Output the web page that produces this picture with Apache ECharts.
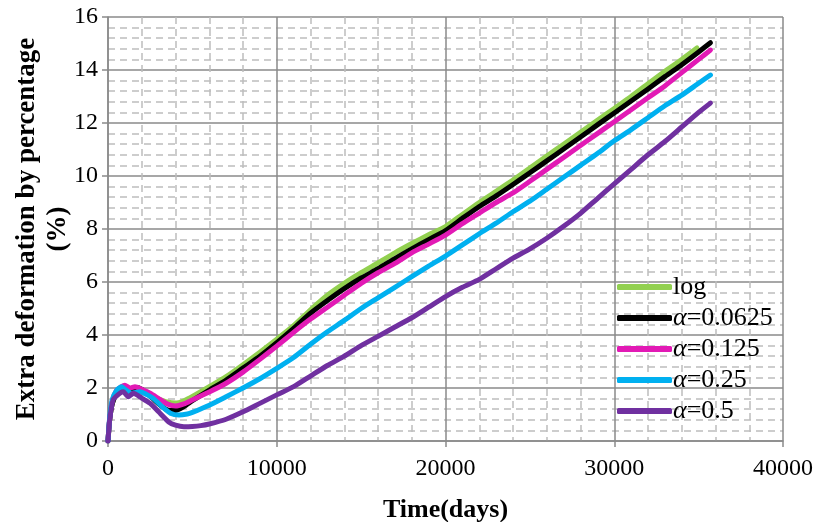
<!DOCTYPE html>
<html>
<head>
<meta charset="utf-8">
<script src="https://cdn.jsdelivr.net/npm/echarts@6/dist/echarts.min.js"></script>
<style>
html,body{margin:0;padding:0;background:#fff;}
#chart{width:818px;height:522px;}
</style>
</head>
<body>
<div id="chart"></div>
<script>
// ---- Data ----
const seriesNames = ['log', 'α=0.0625', 'α=0.125', 'α=0.25', 'α=0.5'];
const seriesColors = ['#92D050', '#000000', '#E21AB5', '#00B0F0', '#7030A0'];

const tLog = [0,100,250,500,800,1100,1500,2000,2500,3000,3500,4000,4500,5000,6000,7000,8000,9000,10000,11000,12000,13000,14000,15000,16000,17000,18000,19000,20000,21000,22000,23000,24000,25000,26000,27000,28000,29000,30000,31000,32000,33000,34000,34900];
const vLog = [0,0.8,1.4,1.8,1.98,2.02,1.95,1.85,1.72,1.58,1.47,1.43,1.52,1.68,2.05,2.43,2.88,3.35,3.84,4.35,4.95,5.5,5.95,6.35,6.72,7.1,7.45,7.78,8.09,8.55,9.0,9.42,9.85,10.3,10.75,11.2,11.65,12.1,12.55,13.0,13.48,13.95,14.4,14.83];

const tA0625 = [0,100,250,500,800,1000,1300,1700,2000,2500,3000,3500,4000,4500,5000,6000,7000,8000,9000,10000,11000,12000,13000,14000,15000,16000,17000,18000,19000,20000,21000,22000,23000,24000,25000,26000,27000,28000,29000,30000,31000,32000,33000,34000,35000,35700];
const vA0625 = [0,0.8,1.4,1.78,1.92,1.95,1.9,2.02,1.95,1.7,1.4,1.18,1.15,1.3,1.52,1.92,2.3,2.75,3.2,3.71,4.25,4.82,5.3,5.75,6.15,6.5,6.88,7.25,7.6,7.94,8.4,8.85,9.25,9.68,10.12,10.57,11.02,11.47,11.93,12.38,12.83,13.28,13.75,14.2,14.68,15.03];

const tA125 = [0,100,250,500,800,1000,1300,1600,2000,2500,3000,3500,4000,4500,5000,6000,7000,8000,9000,10000,11000,12000,13000,14000,15000,16000,17000,18000,19000,20000,21000,22000,23000,24000,25000,26000,27000,28000,29000,30000,31000,32000,33000,34000,35000,35700];
const vA125 = [0,0.85,1.5,1.9,2.05,2.1,2.0,2.05,1.95,1.8,1.6,1.4,1.32,1.4,1.55,1.85,2.18,2.6,3.08,3.58,4.1,4.6,5.05,5.5,5.95,6.35,6.7,7.1,7.43,7.77,8.2,8.6,9.0,9.36,9.8,10.25,10.7,11.15,11.6,12.05,12.5,12.95,13.4,13.9,14.4,14.75];

const tA25 = [0,100,250,500,800,1000,1400,1900,2300,2700,3200,3700,4200,4700,5000,6000,7000,8000,9000,10000,11000,12000,13000,14000,15000,16000,17000,18000,19000,20000,21000,22000,23000,24000,25000,26000,27000,28000,29000,30000,31000,32000,33000,34000,35000,35700];
const vA25 = [0,0.9,1.55,1.9,2.05,1.95,1.8,1.86,1.75,1.6,1.3,1.05,0.98,1.02,1.08,1.35,1.67,2.0,2.35,2.74,3.15,3.65,4.12,4.55,5.0,5.4,5.8,6.2,6.6,6.98,7.4,7.82,8.22,8.65,9.05,9.5,9.95,10.4,10.85,11.33,11.75,12.2,12.65,13.05,13.5,13.81];

const tA5 = [0,100,300,600,900,1200,1500,2000,2500,3000,3600,4000,4500,5000,5500,6000,7000,8000,9000,10000,11000,12000,13000,14000,15000,16000,17000,18000,19000,20000,21000,22000,23000,24000,25000,26000,27000,28000,29000,30000,31000,32000,33000,34000,35000,35700];
const vA5 = [0,0.8,1.55,1.75,1.86,1.67,1.8,1.62,1.42,1.1,0.72,0.6,0.54,0.55,0.58,0.64,0.82,1.1,1.42,1.74,2.05,2.45,2.85,3.2,3.6,3.95,4.3,4.65,5.05,5.45,5.8,6.1,6.5,6.9,7.25,7.65,8.1,8.59,9.15,9.7,10.25,10.8,11.3,11.85,12.4,12.75];

const xTicks = { min: 0, max: 40000, interval: 10000 };
const yTicks = { min: 0, max: 16, interval: 2 };

// ---- Build chart ----
const times = [tLog, tA0625, tA125, tA25, tA5];
const vals = [vLog, vA0625, vA125, vA25, vA5];
const pair = (t, v) => t.map((x, i) => [x, v[i]]);

const FONT = '"Liberation Serif", "Times New Roman", serif';
const major = { color: '#8a8a8a', width: 1.5 };
const minor = { color: '#bdbdbd', width: 1.5, type: [7, 5] };

const chart = echarts.init(document.getElementById('chart'), null, { renderer: 'canvas' });
chart.setOption({
  animation: false,
  backgroundColor: '#ffffff',
  grid: { left: 108, right: 35, top: 17, bottom: 81, containLabel: false, outerBoundsMode: 'none' },
  legend: {
    orient: 'vertical',
    left: 612,
    top: 269,
    itemWidth: 55,
    itemHeight: 6,
    itemGap: 5,
    icon: 'roundRect',
    data: seriesNames,
    formatter: function (name) {
      if (name.charAt(0) === 'α') return '{i|α}{n|' + name.slice(1) + '}';
      return '{n|' + name + '}';
    },
    textStyle: {
      color: '#000',
      fontFamily: FONT,
      fontSize: 26,
      padding: [0, 0, 0, -4],
      rich: {
        i: { fontFamily: FONT, fontSize: 26, fontStyle: 'italic', color: '#000', lineHeight: 26 },
        n: { fontFamily: FONT, fontSize: 26, color: '#000', lineHeight: 26 }
      }
    }
  },
  xAxis: {
    type: 'value',
    min: xTicks.min, max: xTicks.max, interval: xTicks.interval,
    name: 'Time(days)',
    nameLocation: 'middle',
    nameGap: 56,
    nameMoveOverlap: false,
    nameTextStyle: { fontFamily: FONT, fontWeight: 'bold', fontSize: 26, color: '#000' },
    axisLine: { show: true, onZero: false, lineStyle: major },
    axisTick: { show: true, length: 6, lineStyle: major },
    axisLabel: { fontFamily: FONT, fontSize: 24, color: '#000', margin: 16, formatter: v => String(v) },
    splitLine: { show: true, lineStyle: major },
    minorTick: { show: false, splitNumber: 5 },
    minorSplitLine: { show: true, lineStyle: minor }
  },
  yAxis: {
    type: 'value',
    min: yTicks.min, max: yTicks.max, interval: yTicks.interval,
    name: 'Extra deformation by percentage\n(%)',
    nameLocation: 'middle',
    nameGap: 34,
    nameMoveOverlap: false,
    nameTextStyle: { fontFamily: FONT, fontWeight: 'bold', fontSize: 27, color: '#000', lineHeight: 31 },
    axisLine: { show: true, lineStyle: major },
    axisTick: { show: true, length: 6, lineStyle: major },
    axisLabel: { fontFamily: FONT, fontSize: 24, color: '#000', margin: 10, formatter: v => String(v) },
    splitLine: { show: true, lineStyle: major },
    minorTick: { show: false, splitNumber: 5 },
    minorSplitLine: { show: true, lineStyle: minor }
  },
  series: seriesNames.map((name, i) => ({
    name: name,
    type: 'line',
    data: pair(times[i], vals[i]),
    showSymbol: false,
    symbol: 'none',
    smooth: 0.2,
    color: seriesColors[i],
    lineStyle: { color: seriesColors[i], width: 5, cap: 'round', join: 'round' },
    itemStyle: { color: seriesColors[i] },
    z: 2 + i
  }))
});
</script>
</body>
</html>
